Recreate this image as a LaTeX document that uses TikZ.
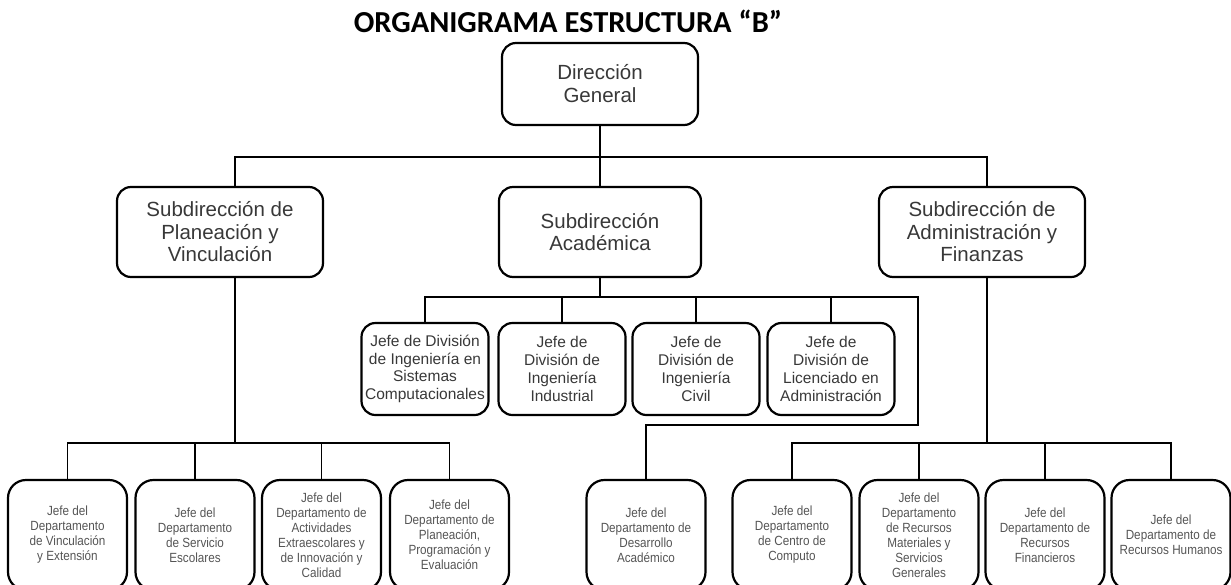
\documentclass[tikz,border=0pt]{standalone}
\usepackage{fontspec}
\setmainfont{Liberation Sans}
\newfontfamily\TitleFont{Carlito}
\newfontfamily\NarrowFont[FakeStretch=0.88]{Liberation Sans}
\usetikzlibrary{positioning}
\definecolor{mygray}{rgb}{0.22,0.22,0.22}
\definecolor{mylightgray}{rgb}{0.33,0.33,0.33}
\newcommand{\TopTxt}{\fontsize{20.5}{23}\selectfont}
\newcommand{\SubTxt}{\fontsize{20.5}{22.5}\selectfont}
\newcommand{\DivTxt}{\fontsize{15.5}{17.7}\selectfont}
\newcommand{\DepTxt}{\NarrowFont\fontsize{13.3}{15}\selectfont}

\begin{document}
\begin{tikzpicture}[x=1pt,y=-1pt,
  box/.style={draw, line width=2.2pt, rounded corners=14pt, align=center, text=mygray, inner sep=0pt},
  sub/.style={box, minimum width=206, minimum height=90, font=\SubTxt},
  div/.style={box, minimum width=127, minimum height=92, font=\DivTxt},
  dep/.style={box, rounded corners=18pt, minimum width=119, minimum height=110, font=\DepTxt, text=mylightgray},
  link/.style={line width=1.3pt}]
  \useasboundingbox (0,0) rectangle (1231,584);
  \clip (0,0) rectangle (1231,584);

  \node[anchor=base, font={\TitleFont\bfseries\fontsize{30.5}{32}\selectfont}] (title) at (568,32) {ORGANIGRAMA ESTRUCTURA “B”};
  \node[box, minimum width=196, minimum height=82, font=\TopTxt] (dir) at (600,84) {Dirección\\General};

  \node[sub]                    (planea) at (220,232) {Subdirección de\\Planeación y\\Vinculación};
  \node[sub, minimum width=202] (acad)   at (600,232) {Subdirección\\Académica};
  \node[sub]                    (admin)  at (982,232) {Subdirección de\\Administración y\\Finanzas};

  \node[div] (div1) at (425,369) {Jefe de División\\de Ingeniería en\\Sistemas\\Computacionales};
  \node[div] (div2) at (562,369) {Jefe de\\División de\\Ingeniería\\Industrial};
  \node[div] (div3) at (696,369) {Jefe de\\División de\\Ingeniería\\Civil};
  \node[div] (div4) at (831,369) {Jefe de\\División de\\Licenciado en\\Administración};

  \node[dep] (jv)   at (67.5,535)  {Jefe del\\Departamento\\de Vinculación\\y Extensión};
  \node[dep] (se)   at (195,535)   {Jefe del\\Departamento\\de Servicio\\Escolares};
  \node[dep] (ae)   at (321.5,535) {Jefe del\\Departamento de\\Actividades\\Extraescolares y\\de Innovación y\\Calidad};
  \node[dep] (pp)   at (449.5,535) {Jefe del\\Departamento de\\Planeación,\\Programación y\\Evaluación};
  \node[dep] (desa) at (646,535)   {Jefe del\\Departamento de\\Desarrollo\\Académico};
  \node[dep] (cc)   at (792,535)   {Jefe del\\Departamento\\de Centro de\\Computo};
  \node[dep] (rm)   at (919,535)   {Jefe del\\Departamento\\de Recursos\\Materiales y\\Servicios\\Generales};
  \node[dep] (rf)   at (1045,535)  {Jefe del\\Departamento de\\Recursos\\Financieros};
  \node[dep] (rh)   at (1171,535)  {Jefe del\\Departamento de\\Recursos Humanos};

  \coordinate (busA) at (0,157);
  \coordinate (busB) at (0,297);
  \coordinate (busC) at (0,443);
  \coordinate (busD) at (918,297);
  \coordinate (busE) at (918,425);

  \draw[link] (dir.south) -- (acad.north);
  \draw[link] ([xshift=15]planea.north) |- (dir.south |- busA) -| ([xshift=5]admin.north);

  \draw[link] (acad.south) -- (acad.south |- busB);
  \draw[link] (div1.north) |- (busD) -- (busE) -| (desa.north);
  \draw[link] (div2.north) -- (div2.north |- busB);
  \draw[link] (div3.north) -- (div3.north |- busB);
  \draw[link] (div4.north) -- (div4.north |- busB);

  \draw[link] ([xshift=15]planea.south) -- ([xshift=15]planea.south |- busC);
  \draw[link] (jv.north) |- (pp.north |- busC) -- (pp.north);
  \draw[link] (se.north) -- (se.north |- busC);
  \draw[link] (ae.north) -- (ae.north |- busC);

  \draw[link] ([xshift=5]admin.south) -- ([xshift=5]admin.south |- busC);
  \draw[link] (cc.north) |- (rh.north |- busC) -- (rh.north);
  \draw[link] (rm.north) -- (rm.north |- busC);
  \draw[link] (rf.north) -- (rf.north |- busC);
\end{tikzpicture}
\end{document}
